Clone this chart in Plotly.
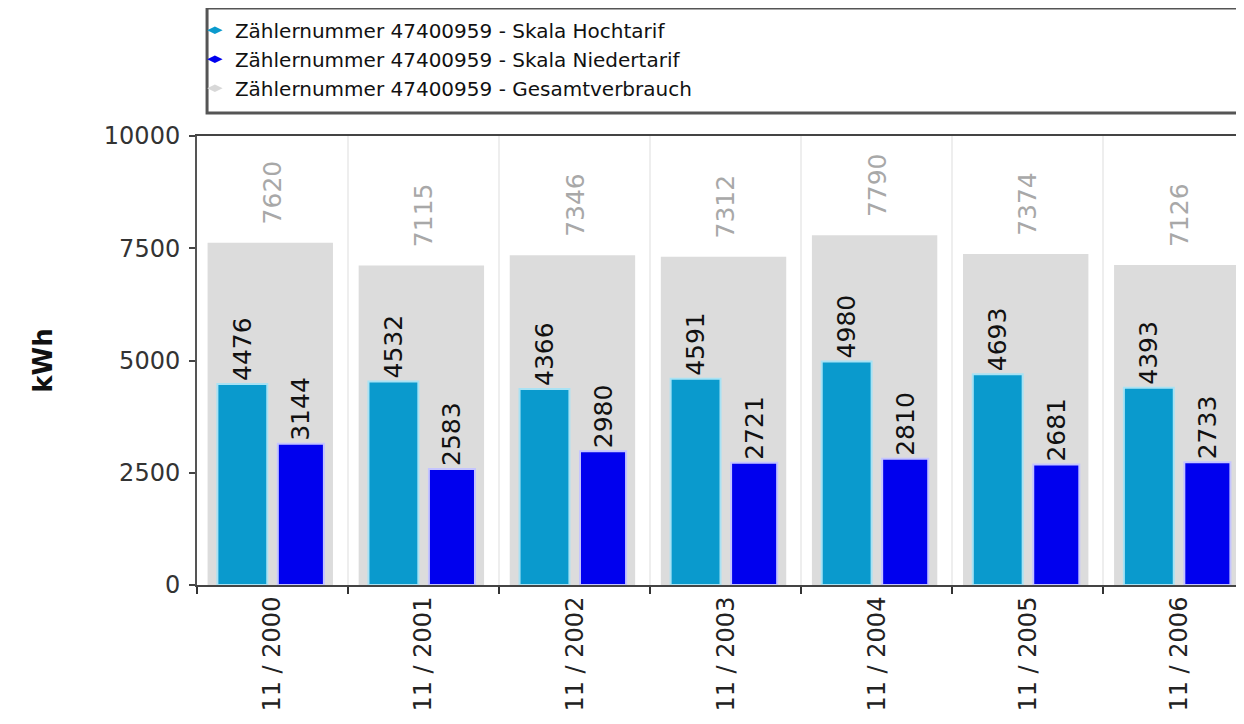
import plotly.graph_objects as go

# ---- data ----
categories = ["11 / 2000", "11 / 2001", "11 / 2002", "11 / 2003",
              "11 / 2004", "11 / 2005", "11 / 2006"]
hochtarif = [4476, 4532, 4366, 4591, 4980, 4693, 4393]
niedertarif = [3144, 2583, 2980, 2721, 2810, 2681, 2733]
gesamt = [7620, 7115, 7346, 7312, 7790, 7374, 7126]
series_names = [
    "Zählernummer 47400959 - Skala Hochtarif",
    "Zählernummer 47400959 - Skala Niedertarif",
    "Zählernummer 47400959 - Gesamtverbrauch",
]
y_ticks = [0, 2500, 5000, 7500, 10000]
y_ticklabels = ["0", "2500", "5000", "7500", "10000"]
y_title = "kWh"

FONT = "DejaVu Sans, Liberation Sans, Arial, sans-serif"
C_HOCH = "#0A9ACD"
C_NIED = "#0000EE"
C_GES = "#DCDCDC"

fig = go.Figure()

fig.add_bar(x=categories, y=gesamt, name=series_names[2],
            marker=dict(color=C_GES, line=dict(width=0)),
            width=0.83, offset=-0.43, showlegend=False)
fig.add_bar(x=categories, y=hochtarif, name=series_names[0],
            marker=dict(color=C_HOCH, line=dict(color="#A8E2F4", width=2)),
            width=0.33, offset=-0.365, text=hochtarif, textposition="outside",
            textangle=-90, constraintext="none", cliponaxis=False,
            textfont=dict(family=FONT, size=25, color="#111111"),
            showlegend=False)
fig.add_bar(x=categories, y=niedertarif, name=series_names[1],
            marker=dict(color=C_NIED, line=dict(color="#C4C4FF", width=2)),
            width=0.305, offset=0.035, text=niedertarif, textposition="outside",
            textangle=-90, constraintext="none", cliponaxis=False,
            textfont=dict(family=FONT, size=25, color="#111111"),
            showlegend=False)

# legend entries (small dash/diamond symbols as in the reference)
for nm, col in zip(series_names, [C_HOCH, C_NIED, "#D8D8D8"]):
    fig.add_scatter(x=[None], y=[None], mode="markers", name=nm,
                    marker=dict(symbol="diamond-wide", size=11, color=col,
                                line=dict(width=0)))

# total labels above the grey bars
for c, v in zip(categories, gesamt):
    fig.add_annotation(x=c, y=v, text=str(v), textangle=-90, showarrow=False,
                       yanchor="bottom", yshift=16,
                       font=dict(family=FONT, size=25, color="#A8A8A8"))

fig.update_layout(
    width=1244, height=724,
    margin=dict(l=189, r=8, t=128, b=147, autoexpand=False),
    barmode="overlay",
    plot_bgcolor="white", paper_bgcolor="white",
    font=dict(family=FONT, size=22, color="#222222"),
    legend=dict(x=-0.002, xanchor="left", y=1.279, yanchor="top",
                bgcolor="rgba(0,0,0,0)", borderwidth=0, traceorder="normal",
                font=dict(family=FONT, size=20, color="#111111"),
                itemwidth=30, tracegroupgap=0),
    xaxis=dict(type="category", range=[-0.5, 6.43], tickson="boundaries",
               ticks="outside", ticklen=7, tickwidth=2, tickcolor="#333333",
               tickangle=-90, showline=True, linecolor="#444444", linewidth=2,
               mirror=True, showgrid=True, gridcolor="#EEEEEE", gridwidth=2,
               tickfont=dict(family=FONT, size=24, color="#222222")),
    yaxis=dict(range=[0, 10000], tickvals=y_ticks, ticktext=y_ticklabels,
               ticks="outside", ticklen=6, ticklabelstandoff=4,
               tickwidth=2, tickcolor="#444444", showline=True,
               linecolor="#555555", linewidth=2, showgrid=False, zeroline=False,
               tickfont=dict(family=FONT, size=24, color="#333333"),
               title=dict(text="<b>" + y_title + "</b>", standoff=44,
                          font=dict(family=FONT, size=26, color="#111111"))),
    shapes=[dict(type="rect", xref="paper", yref="paper",
                 x0=0.0096, x1=1.02, y0=1.051, y1=1.285,
                 line=dict(color="#555555", width=3),
                 fillcolor="white", layer="below")],
)

fig.write_html("out.html")
